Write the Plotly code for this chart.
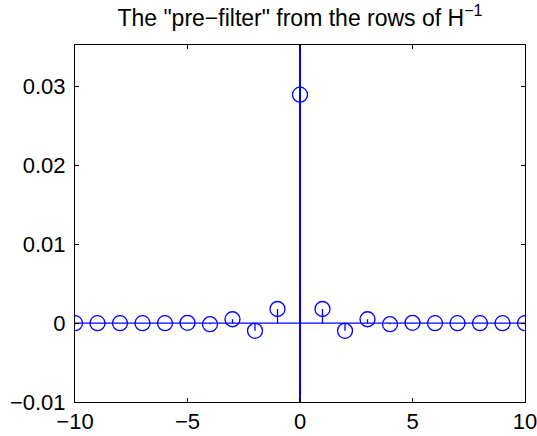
import plotly.graph_objects as go

n = list(range(-10, 11))
h = [0.0, 0.0, 0.0, 0.0, 0.0, 0.00005, -0.00013, 0.0005, -0.00097, 0.0018,
     0.029,
     0.0018, -0.00097, 0.0005, -0.00013, 0.00005, 0.0, 0.0, 0.0, 0.0, 0.0]
x_ticks = [-10, -5, 0, 5, 10]
x_ticktext = ["\u221210", "\u22125", "0", "5", "10"]
y_ticks = [-0.01, 0, 0.01, 0.02, 0.03]
y_ticktext = ["\u22120.01", "0", "0.01", "0.02", "0.03"]
y_range = [-0.01, 0.0353]
x_range = [-10, 10]

blue = "#0000ff"
font = "Liberation Sans, Arial, Helvetica, sans-serif"

sx, sy = [], []
for xi, yi in zip(n, h):
    sx += [xi, xi, None]
    sy += [0, yi, None]

fig = go.Figure()
# vertical line at x = 0
fig.add_trace(go.Scatter(x=[0, 0], y=y_range, mode="lines",
                         line=dict(color=blue, width=2), hoverinfo="skip"))
# baseline
fig.add_trace(go.Scatter(x=x_range, y=[0, 0], mode="lines",
                         line=dict(color=blue, width=1.3), hoverinfo="skip"))
# stems
fig.add_trace(go.Scatter(x=sx, y=sy, mode="lines",
                         line=dict(color=blue, width=1.3), hoverinfo="skip"))
# markers
fig.add_trace(go.Scatter(x=n, y=h, mode="markers",
                         marker=dict(symbol="circle-open", size=15,
                                     color=blue, line=dict(width=1.3, color=blue))))

axis_common = dict(showgrid=False, zeroline=False, ticks="inside", ticklen=4,
                   tickwidth=1, tickcolor="black", showline=True, linecolor="black",
                   linewidth=1, mirror="allticks", automargin=False,
                   ticklabeloverflow="allow",
                   tickfont=dict(family=font, size=22, color="black"))

fig.update_layout(
    width=537, height=436,
    margin=dict(l=75, r=12, t=45, b=34, autoexpand=False),
    paper_bgcolor="white", plot_bgcolor="white",
    showlegend=False,
    title=dict(text='The "pre\u2212filter" from the rows of H<sup>\u22121</sup>',
               x=(75 + 525) / 2 / 537, xanchor="center",
               yref="container", y=1 - 18 / 436, yanchor="middle",
               font=dict(family=font, size=23, color="black")),
    xaxis=dict(range=x_range, tickvals=x_ticks, ticktext=x_ticktext,
               ticklabelstandoff=0, **axis_common),
    yaxis=dict(range=y_range, tickvals=y_ticks, ticktext=y_ticktext,
               ticklabelstandoff=4, **axis_common),
)

fig.write_html("out.html")
